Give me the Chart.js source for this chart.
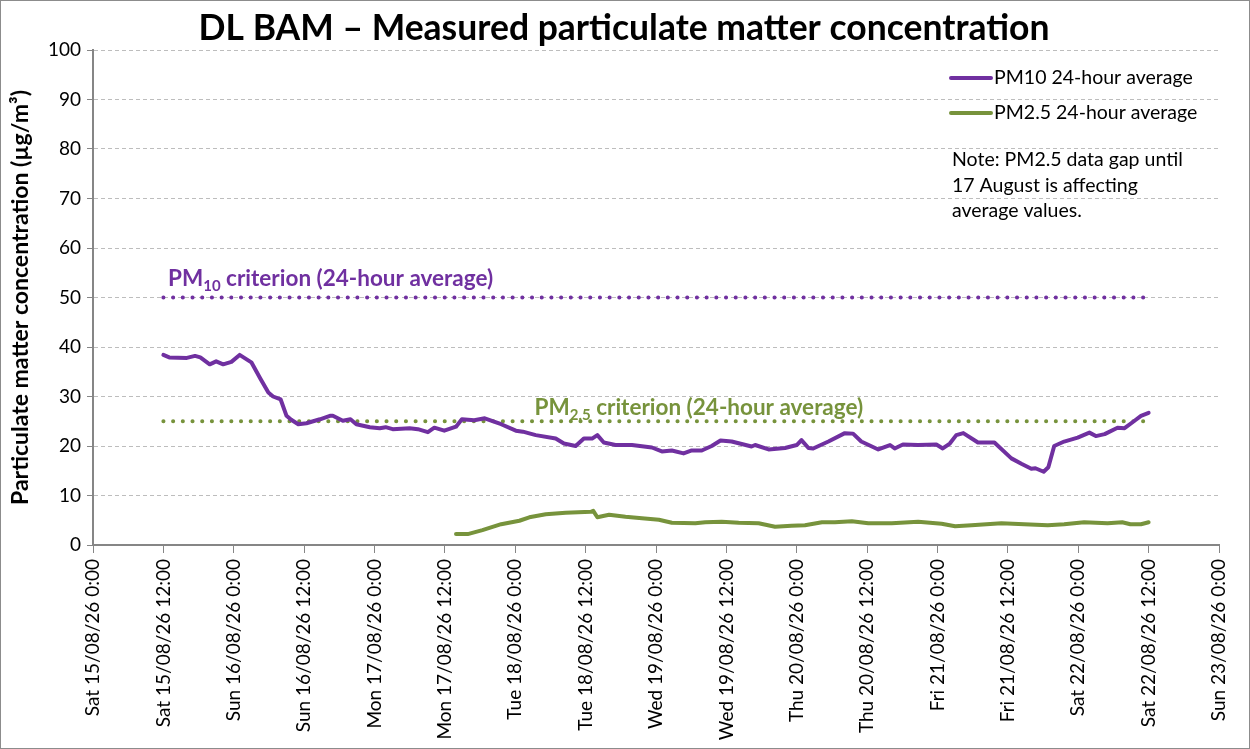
<!DOCTYPE html>
<html>
<head>
<meta charset="utf-8">
<script src="https://cdn.jsdelivr.net/npm/chart.js@4/dist/chart.umd.min.js"></script>
<style>
  body { margin: 0; background: #fff; }
  #wrap { width: 1250px; height: 749px; position: relative; box-sizing: border-box; border: 1px solid #8c8c8c; }
</style>
</head>
<body>
<div id="wrap"><canvas id="myChart" width="1248" height="747"></canvas></div>
<script>
// hours since Sat 15/08/26 0:00
var tickLabels = [
  "Sat 15/08/26 0:00", "Sat 15/08/26 12:00", "Sun 16/08/26 0:00", "Sun 16/08/26 12:00",
  "Mon 17/08/26 0:00", "Mon 17/08/26 12:00", "Tue 18/08/26 0:00", "Tue 18/08/26 12:00",
  "Wed 19/08/26 0:00", "Wed 19/08/26 12:00", "Thu 20/08/26 0:00", "Thu 20/08/26 12:00",
  "Fri 21/08/26 0:00", "Fri 21/08/26 12:00", "Sat 22/08/26 0:00", "Sat 22/08/26 12:00",
  "Sun 23/08/26 0:00"
];

var pm10Hours = [12, 13, 16, 17.4, 18.3, 19.9, 21, 22.2, 23.6, 25, 27, 28.5, 29.9, 30.7, 32, 33, 33.8, 35,
  36.4, 38.7, 40.4, 40.9, 42.6, 43.9, 44.9, 47.2, 48.9, 49.9, 51.1, 54, 55.4, 57.1, 58.2, 59.9, 61.9,
  62.9, 65, 66.8, 69.6, 72.1, 73.3, 75.5, 78.9, 80.3, 82.3, 83.7, 85.1, 86, 87.1, 89.1, 91.9, 95.3,
  97, 98.7, 100.7, 102.1, 103.8, 105.5, 107, 108.9, 112.3, 112.9, 115.2, 118, 120, 120.8, 122,
  122.8, 125.4, 128.2, 129.6, 131, 133.9, 135.9, 136.7, 138.1, 140.7, 143.8, 144.9, 146.1, 147.2,
  148.4, 150.9, 153.7, 156.6, 158.3, 160, 160.7, 162.1, 162.9, 163.9, 165.6, 167.9, 169.9, 171,
  172.5, 174.7, 175.9, 177.6, 178.7, 180];
var pm10Values = [38.4, 37.9, 37.8, 38.2, 37.9, 36.5, 37.1, 36.5, 37.0, 38.4, 36.9, 33.7, 30.8, 30.0, 29.4, 26.1, 25.3, 24.4,
  24.6, 25.4, 26.1, 26.1, 25.1, 25.4, 24.4, 23.8, 23.6, 23.8, 23.4, 23.6, 23.4, 22.8, 23.7, 23.1, 23.9,
  25.4, 25.2, 25.6, 24.4, 23.1, 22.9, 22.2, 21.5, 20.5, 20.0, 21.5, 21.5, 22.2, 20.7, 20.2, 20.2, 19.7,
  18.9, 19.1, 18.5, 19.1, 19.1, 20.0, 21.1, 20.9, 19.9, 20.2, 19.3, 19.6, 20.2, 21.2, 19.6,
  19.5, 20.9, 22.6, 22.5, 20.9, 19.3, 20.2, 19.5, 20.3, 20.2, 20.3, 19.5, 20.5, 22.2,
  22.6, 20.7, 20.7, 17.5, 16.4, 15.4, 15.5, 14.8, 15.7, 20.0, 20.9, 21.7, 22.7, 22.0,
  22.4, 23.7, 23.6, 25.1, 26.1, 26.7];

var pm25Hours = [61.9, 63.9, 66.4, 69.6, 72.7, 74.4, 77.2, 80.6, 84.9, 85.3, 86, 88, 90.8, 93.6, 96.5, 98.7,
  102.7, 104.4, 107.2, 110.1, 113.5, 116.3, 119.1, 121.4, 124.3, 126.5, 129.4, 132.2, 136.2, 140.7,
  144.7, 147, 149.8, 154.9, 158.8, 162.8, 165.6, 169, 173, 175.5, 176.9, 178.7, 180];
var pm25Values = [2.2, 2.2, 3.0, 4.2, 4.9, 5.6, 6.2, 6.5, 6.7, 6.9, 5.6, 6.1, 5.7, 5.4, 5.1, 4.5,
  4.4, 4.6, 4.7, 4.5, 4.4, 3.7, 3.9, 4.0, 4.6, 4.6, 4.8, 4.4, 4.4, 4.7,
  4.3, 3.8, 4.0, 4.4, 4.2, 4.0, 4.2, 4.6, 4.4, 4.6, 4.2, 4.2, 4.6];

var criterionHours = [12, 180];
var pm10Criterion = 50;
var pm25Criterion = 25;

var purple = "#7030A0",
    green  = "#77933C",
    font   = "Lato, 'Open Sans', sans-serif";

function points(xs, ys) {
  return xs.map(function(x, i) { return { x: x, y: ys[i] }; });
}

var overlay = {
  id: "overlay",
  afterDraw: function(chart) {
    var ctx = chart.ctx,
        xs  = chart.scales.x,
        ys  = chart.scales.y;
    ctx.save();

    // title
    ctx.fillStyle = "#000";
    ctx.font = "bold 35.5px " + font;
    ctx.textAlign = "center";
    ctx.textBaseline = "alphabetic";
    ctx.fillText("DL BAM \u2013 Measured particulate matter concentration", 623, 39);

    // criterion labels
    function subLabel(main, sub, rest, x, y, color) {
      ctx.fillStyle = color;
      ctx.textAlign = "left";
      ctx.font = "bold 22.5px " + font;
      ctx.fillText(main, x, y);
      x += ctx.measureText(main).width;
      ctx.font = "bold 15px " + font;
      ctx.fillText(sub, x, y + 5);
      x += ctx.measureText(sub).width;
      ctx.font = "bold 22.5px " + font;
      ctx.fillText(" " + rest, x, y);
    }
    subLabel("PM", "10", "criterion (24-hour average)", xs.getPixelForValue(12.8), ys.getPixelForValue(52.3), purple);
    subLabel("PM", "2,5", "criterion (24-hour average)", xs.getPixelForValue(75.3), ys.getPixelForValue(26.2), green);

    // legend
    var legend = [["PM10 24-hour average", purple, 77], ["PM2.5 24-hour average", green, 112]];
    ctx.font = "19.5px " + font;
    ctx.textBaseline = "middle";
    legend.forEach(function(item) {
      ctx.strokeStyle = item[1];
      ctx.lineWidth = 4;
      ctx.lineCap = "round";
      ctx.beginPath();
      ctx.moveTo(950, item[2]);
      ctx.lineTo(990, item[2]);
      ctx.stroke();
      ctx.fillStyle = "#000";
      ctx.fillText(item[0], 993, item[2]);
    });

    // note
    ctx.font = "19.5px " + font;
    var note = ["Note: PM2.5 data gap until", "17 August is affecting", "average values."];
    note.forEach(function(line, i) {
      ctx.fillText(line, 951, 159 + i * 25.5);
    });
    ctx.restore();
  }
};

var myChart = new Chart(document.getElementById("myChart"), {
  type: "line",
  data: {
    datasets: [
      { label: "PM10 24-hour average", data: points(pm10Hours, pm10Values),
        borderColor: purple, borderWidth: 4, pointRadius: 0, tension: 0, borderJoinStyle: "round", borderCapStyle: "round" },
      { label: "PM2.5 24-hour average", data: points(pm25Hours, pm25Values),
        borderColor: green, borderWidth: 4, pointRadius: 0, tension: 0, borderJoinStyle: "round", borderCapStyle: "round" },
      { label: "PM10 criterion", data: points(criterionHours, [pm10Criterion, pm10Criterion]),
        borderColor: purple, borderWidth: 4, pointRadius: 0, borderDash: [0.1, 9.6], borderCapStyle: "round" },
      { label: "PM2.5 criterion", data: points(criterionHours, [pm25Criterion, pm25Criterion]),
        borderColor: green, borderWidth: 4, pointRadius: 0, borderDash: [0.1, 9.6], borderCapStyle: "round" }
    ]
  },
  options: {
    responsive: false,
    animation: false,
    layout: { padding: { left: 0, right: 30, top: 49, bottom: 0 } },
    plugins: { legend: { display: false }, tooltip: { enabled: false } },
    scales: {
      x: {
        type: "linear", min: 0, max: 192,
        afterFit: function(scale) { scale.height = 203; },
        afterBuildTicks: function(scale) {
          scale.ticks = tickLabels.map(function(l, i) { return { value: i * 12 }; });
        },
        ticks: {
          minRotation: 90, maxRotation: 90, padding: 6, color: "#000",
          font: { family: font, size: 19 },
          callback: function(v) { return tickLabels[Math.round(v / 12)]; }
        },
        grid: { drawOnChartArea: false, drawTicks: true, tickLength: 8, color: "#868686", lineWidth: 1 },
        border: { color: "#868686", width: 2 }
      },
      y: {
        min: 0, max: 100,
        afterFit: function(scale) { scale.width = 92; },
        ticks: { stepSize: 10, padding: 6, color: "#000", font: { family: font, size: 19 } },
        grid: { color: "#bdbdbd", tickLength: 6, tickColor: "#868686", tickBorderDash: [] },
        border: { color: "#868686", width: 2, dash: [4, 3] },
        title: { display: true, text: "Particulate matter concentration (\u00b5g/m\u00b3)", color: "#000",
                 font: { family: font, size: 23, weight: "bold" }, padding: { top: 6, bottom: 2 } }
      }
    }
  },
  plugins: [overlay]
});
</script>
</body>
</html>
